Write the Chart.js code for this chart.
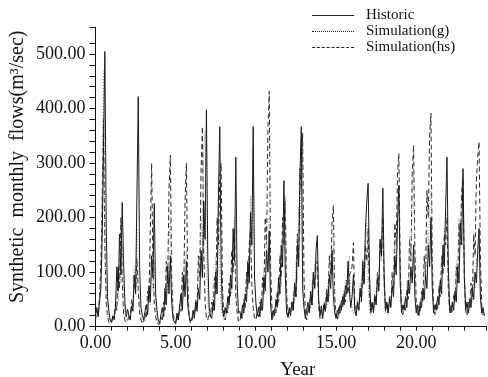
<!DOCTYPE html>
<html>
<head>
<meta charset="utf-8">
<script src="https://cdn.jsdelivr.net/npm/chart.js@4.4.1/dist/chart.umd.min.js"></script>
<style>
  html, body { margin: 0; padding: 0; background: #fff; overflow: hidden; }
  #wrap { position: relative; width: 488px; height: 381px; }
  #legend { position: absolute; left: 312px; top: 6px; font-family: "Liberation Serif", "DejaVu Serif", serif; font-size: 15px; color: #111; }
  #legend .row { height: 16px; line-height: 16px; white-space: nowrap; }
  #legend .sample { display: inline-block; width: 42px; vertical-align: middle; margin-right: 12px; border-top-width: 1px; border-top-color: #222; }
</style>
</head>
<body>
<div id="wrap">
  <canvas id="chart" width="488" height="381"></canvas>
  <div id="legend">
    <div class="row"><span class="sample" style="border-top-style:solid"></span>Historic</div>
    <div class="row"><span class="sample" style="border-top-style:dotted"></span>Simulation(g)</div>
    <div class="row"><span class="sample" style="border-top-style:dashed"></span>Simulation(hs)</div>
  </div>
</div>
<script>
// 月流量 (m3/sec)，每行一年 12 个月
const historic = [
  22, 35, 18, 45, 70, 160, 330, 505, 190, 55, 28, 12,
  8, 20, 14, 40, 110, 65, 170, 95, 228, 120, 45, 18,
  32, 20, 12, 38, 28, 95, 60, 240, 422, 110, 35, 22,
  12, 28, 40, 22, 75, 45, 130, 90, 226, 60, 30, 10,
  6, 22, 35, 18, 70, 40, 110, 60, 130, 45, 15, 8,
  5, 25, 12, 38, 60, 30, 95, 55, 120, 40, 20, 10,
  12, 30, 18, 45, 28, 70, 50, 140, 90, 230, 160, 398,
  130, 35, 20, 15, 45, 30, 100, 60, 240, 367, 110, 30,
  18, 35, 25, 55, 40, 95, 70, 180, 120, 311, 80, 25,
  28, 15, 40, 25, 60, 45, 120, 80, 210, 150, 367, 90,
  45, 20, 35, 18, 50, 30, 90, 65, 140, 100, 175, 40,
  12, 30, 20, 50, 35, 90, 60, 150, 110, 268, 95, 25,
  18, 35, 22, 45, 30, 80, 55, 150, 110, 280, 367, 70,
  35, 15, 30, 45, 25, 65, 40, 100, 70, 140, 167, 50,
  20, 38, 15, 40, 28, 60, 45, 95, 70, 140, 55, 25,
  15, 30, 22, 40, 30, 55, 40, 75, 60, 120, 65, 35,
  55, 95, 30, 20, 45, 30, 70, 50, 120, 80, 180, 230,
  263, 100, 30, 45, 25, 55, 40, 90, 65, 160, 130, 254,
  95, 30, 45, 25, 50, 35, 75, 55, 130, 95, 190, 259,
  80, 25, 40, 30, 55, 35, 85, 60, 110, 80, 150, 55,
  25, 40, 20, 45, 35, 70, 50, 95, 70, 150, 110, 200,
  70, 25, 40, 30, 55, 40, 85, 60, 150, 110, 220, 311,
  110, 35, 25, 45, 30, 65, 45, 110, 80, 190, 150, 290,
  90, 30, 45, 25, 50, 35, 70, 50, 100, 80, 140, 180,
  55, 25, 35, 20
];

const simG = [
  18, 30, 22, 50, 95, 240, 470, 180, 75, 25, 12, 8,
  12, 18, 30, 25, 65, 45, 120, 80, 150, 60, 28, 14,
  10, 22, 15, 48, 35, 110, 75, 180, 95, 35, 22, 8,
  14, 10, 28, 20, 55, 40, 95, 65, 120, 35, 18, 10,
  8, 18, 12, 40, 30, 85, 60, 160, 200, 80, 30, 12,
  10, 20, 15, 35, 28, 70, 50, 110, 140, 60, 25, 12,
  14, 25, 18, 50, 35, 100, 70, 200, 150, 330, 360, 120,
  45, 20, 32, 25, 65, 45, 130, 90, 250, 100, 35, 18,
  12, 25, 18, 50, 35, 90, 60, 160, 200, 85, 35, 18,
  18, 12, 35, 25, 65, 45, 120, 85, 240, 170, 330, 100,
  35, 20, 30, 22, 55, 40, 100, 70, 160, 120, 200, 60,
  25, 15, 35, 25, 60, 40, 110, 75, 180, 150, 240, 70,
  25, 15, 35, 28, 60, 45, 120, 85, 220, 170, 340, 110,
  35, 20, 30, 25, 50, 35, 80, 55, 115, 90, 140, 45,
  22, 15, 32, 25, 50, 35, 80, 55, 120, 95, 160, 55,
  20, 28, 15, 40, 30, 60, 45, 85, 65, 115, 130, 60,
  35, 22, 30, 20, 50, 35, 80, 55, 125, 95, 160, 190,
  75, 30, 20, 40, 30, 65, 45, 100, 75, 140, 120, 180,
  60, 25, 35, 22, 55, 40, 95, 70, 160, 120, 220, 250,
  100, 30, 22, 45, 35, 85, 60, 165, 120, 260, 300, 110,
  40, 25, 38, 28, 60, 45, 110, 80, 180, 140, 230, 250,
  90, 30, 22, 45, 35, 80, 55, 130, 95, 180, 160, 210,
  70, 25, 38, 28, 60, 45, 120, 85, 200, 150, 260, 280,
  100, 30, 22, 40, 30, 65, 45, 95, 70, 125, 110, 150,
  55, 22, 32, 20
];

const simHS = [
  12, 28, 20, 55, 110, 230, 380, 150, 45, 18, 8, 5,
  8, 18, 12, 45, 30, 110, 70, 200, 85, 25, 12, 8,
  10, 22, 15, 50, 35, 95, 60, 125, 65, 25, 12, 6,
  8, 25, 15, 65, 45, 175, 300, 110, 40, 18, 8, 4,
  5, 18, 10, 45, 30, 120, 80, 250, 315, 90, 25, 10,
  8, 20, 12, 40, 28, 100, 65, 230, 300, 85, 20, 6,
  10, 22, 15, 50, 35, 130, 90, 290, 367, 140, 45, 15,
  12, 25, 18, 45, 30, 90, 60, 200, 150, 280, 300, 70,
  22, 12, 35, 25, 80, 55, 140, 100, 180, 55, 25, 10,
  8, 25, 15, 50, 35, 100, 70, 150, 175, 75, 35, 15,
  12, 25, 18, 45, 30, 90, 60, 200, 150, 360, 432, 110,
  35, 18, 32, 25, 65, 45, 130, 90, 200, 150, 230, 60,
  15, 30, 20, 45, 30, 80, 55, 170, 120, 290, 250, 355,
  90, 25, 12, 35, 25, 60, 40, 95, 70, 110, 120, 35,
  15, 30, 20, 45, 30, 70, 50, 130, 95, 190, 222, 55,
  20, 12, 35, 25, 50, 35, 65, 45, 85, 60, 95, 100,
  110, 154, 40, 22, 40, 30, 60, 45, 100, 75, 150, 120,
  180, 55, 22, 40, 30, 60, 45, 100, 75, 160, 130, 200,
  80, 28, 40, 25, 55, 40, 100, 70, 190, 150, 280, 318,
  110, 35, 22, 40, 30, 70, 50, 160, 120, 280, 333, 140,
  45, 22, 38, 28, 65, 45, 130, 95, 250, 200, 350, 392,
  120, 35, 22, 45, 30, 75, 55, 130, 95, 170, 150, 200,
  70, 25, 40, 28, 60, 45, 110, 80, 190, 150, 250, 272,
  90, 30, 20, 45, 35, 80, 55, 170, 130, 270, 310, 339,
  130, 40, 22, 15
];

const toPoints = arr => arr.map((v, i) => ({ x: i / 12, y: v }));

const serif = '"Liberation Serif", "DejaVu Serif", serif';

new Chart(document.getElementById('chart'), {
  type: 'line',
  data: {
    datasets: [
      { label: 'Historic', data: toPoints(historic), borderColor: '#1a1a1a', borderWidth: 1, pointRadius: 0, tension: 0 },
      { label: 'Simulation(g)', data: toPoints(simG), borderColor: '#8a8a8a', borderWidth: 1, borderDash: [1, 2], pointRadius: 0, tension: 0 },
      { label: 'Simulation(hs)', data: toPoints(simHS), borderColor: '#2a2a2a', borderWidth: 1, borderDash: [5, 3], pointRadius: 0, tension: 0 }
    ]
  },
  options: {
    responsive: false,
    animation: false,
    layout: { padding: { top: 27, right: 0, left: 6, bottom: 0 } },
    plugins: { legend: { display: false }, tooltip: { enabled: false } },
    scales: {
      x: {
        type: 'linear',
        min: 0,
        max: 24.35,
        border: { color: '#111', width: 1 },
        grid: { drawOnChartArea: false, tickLength: 4, color: '#111' },
        ticks: {
          stepSize: 1,
          autoSkip: false,
          maxRotation: 0,
          color: '#111',
          font: { family: serif, size: 18 },
          padding: 2,
          callback: v => (v % 5 === 0 ? v.toFixed(2) : '')
        },
        // 前置空格让标题略微右移
        title: { display: true, text: '   Year', color: '#111', font: { family: serif, size: 19 }, padding: { top: 2, bottom: 0 } }
      },
      y: {
        min: 0,
        max: 550,
        border: { color: '#111', width: 1 },
        grid: { drawOnChartArea: false, tickLength: 6, color: '#111' },
        ticks: {
          stepSize: 20,
          autoSkip: false,
          color: '#111',
          font: { family: serif, size: 18 },
          padding: 4,
          callback: v => (v % 100 === 0 ? v.toFixed(2) : '')
        },
        // 前置空格让标题略微上移
        title: { display: true, text: '    Synthetic  monthly  flows(m³/sec)', color: '#111', font: { family: serif, size: 20 }, padding: { top: 0, bottom: 2 } }
      }
    }
  }
});
</script>
</body>
</html>
